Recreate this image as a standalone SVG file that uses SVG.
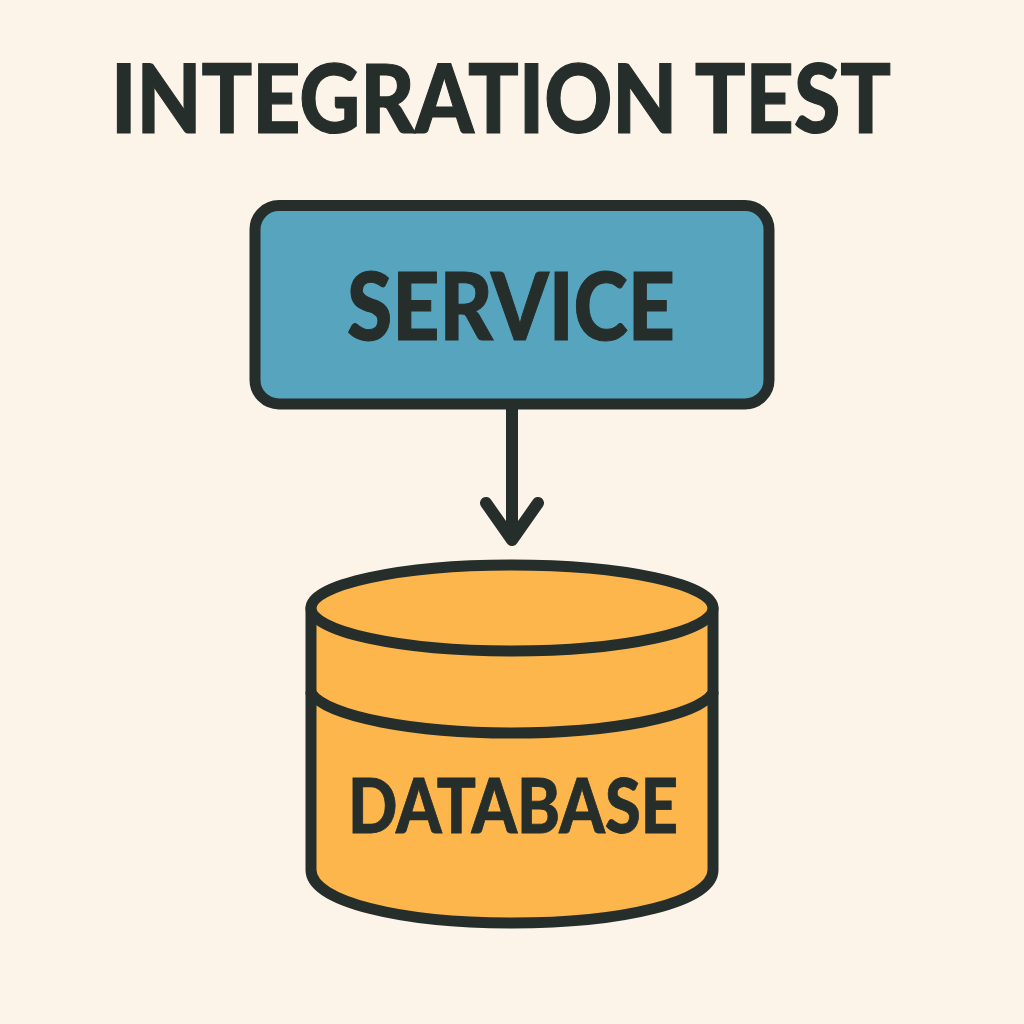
<svg xmlns="http://www.w3.org/2000/svg" width="1024" height="1024" viewBox="0 0 1024 1024">
<style>
.t{font-family:"Lato","Open Sans","Liberation Sans",sans-serif;font-weight:900;fill:#252e2b;stroke:#252e2b;text-anchor:middle}
.s{stroke:#252e2b;stroke-width:11;stroke-linejoin:round;stroke-linecap:round}
</style>
<rect width="1024" height="1024" fill="#fdf4e9"/>
<text id="title" class="t" x="501" y="132.500" font-size="96" stroke-width="1.200" textLength="780" lengthAdjust="spacingAndGlyphs">INTEGRATION TEST</text>
<g id="connectors">
<path class="s" fill="none" style="stroke-width:12" d="M512 408V540M486 503L512 540L538 503"/>
</g>
<g id="service">
<rect class="s" x="255" y="205.500" width="514" height="198.500" rx="24" fill="#57a4bf"/>
<text class="t" x="511" y="339.500" font-size="93" stroke-width="1" textLength="328" lengthAdjust="spacingAndGlyphs">SERVICE</text>
</g>
<g id="database">
<path class="s" fill="#fdb64c" d="M311 608V870C311 902 402 923 512 923C622 923 713 902 713 870V608Z"/>
<ellipse class="s" cx="512" cy="608" rx="201" ry="43" fill="#fdb64c"/>
<path class="s" fill="none" d="M311 693C327 717 416 733 512 733C608 733 697 717 713 693"/>
<text class="t" x="513" y="832.500" font-size="75.500" stroke-width="0.800" textLength="330" lengthAdjust="spacingAndGlyphs">DATABASE</text>
</g>
</svg>
